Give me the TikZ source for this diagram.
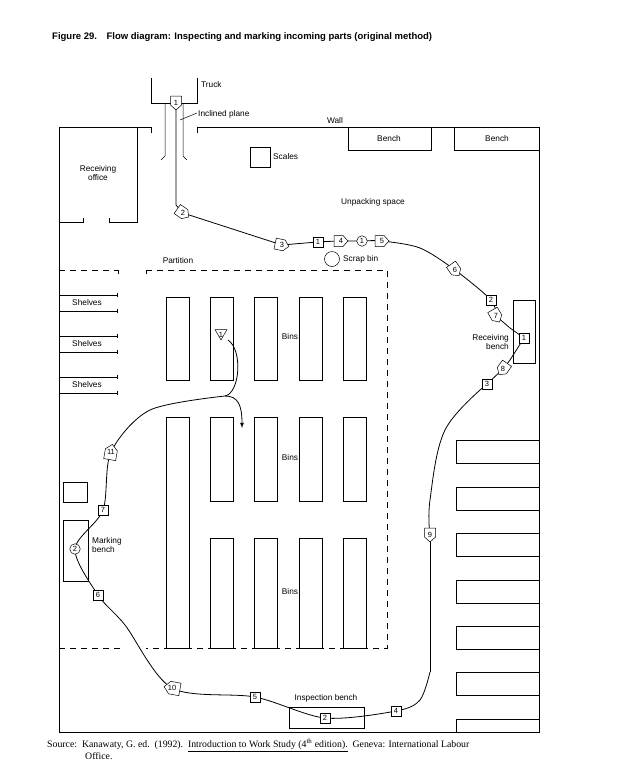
\documentclass[tikz,border=0pt]{standalone}
\usepackage{fontspec}
\setmainfont{Liberation Sans}
\newfontfamily\serifx{Liberation Serif}
\usetikzlibrary{shapes.geometric}
\begin{document}
\begin{tikzpicture}[x=1pt,y=-1pt,
  wall/.style={line width=0.8pt},
  thin/.style={line width=0.5pt},
  part/.style={line width=0.6pt,dash pattern=on 6pt off 5pt},
  lbl/.style={font=\fontsize{8.3}{9}\selectfont,inner sep=0pt,align=center},
  insp/.style={draw,fill=white,minimum size=10pt,inner sep=0pt,line width=0.5pt},
  op/.style={draw,fill=white,circle,minimum size=10.5pt,inner sep=0pt,line width=0.5pt},
  num/.style={font=\fontsize{7.5}{7.5}\selectfont,inner sep=0pt},
  flow/.style={line width=0.8pt},
  pics/trans/.style={code={\filldraw[fill=white,line width=0.5pt] (-7,-5.5) -- (2,-5.5) -- (7,0) -- (2,5.5) -- (-7,5.5) -- cycle;}}]
\useasboundingbox (0,0) rectangle (626,780);
\node[anchor=west,font=\bfseries\fontsize{9.5}{11}\selectfont,inner sep=0pt] (title) at (52,37) {Figure 29.\quad Flow diagram: Inspecting and marking incoming parts (original method)};
% walls
\draw[wall] (151,133) -- (151,127) -- (59,127) -- (59,732) -- (539,732) -- (539,127) -- (197,127) -- (197,133);
\draw[thin] (151,78) -- (151,103) -- (197,103) -- (197,78);
\node[lbl,anchor=west] (truck) at (201,85) {Truck};
\draw[thin] (161,160) -- (165,156) -- (165,103);
\draw[thin] (187,160) -- (183,156) -- (183,103);
\draw[thin] (180,120) -- (197,113);
\node[lbl,anchor=west] (incl) at (198,114) {Inclined plane};
\node[lbl] (wallt) at (335,121) {Wall};
% receiving office
\draw[thin] (137,127) -- (137,222) -- (109,222) -- (109,218);
\draw[thin] (59,222) -- (83,222) -- (83,218);
\node[lbl] (ro) at (98,173) {Receiving\\office};
\draw[thin] (250,147) rectangle (270,167);
\node[lbl,anchor=west] (scales) at (273,157) {Scales};
\draw[thin] (348,127) rectangle (431,150);
\node[lbl] at (389,139) {Bench};
\draw[thin] (454,127) rectangle (539,150);
\node[lbl] at (497,139) {Bench};
\node[lbl] (unp) at (373,202) {Unpacking space};
% partition
\draw[part] (59,270) -- (118,270); \draw[thin] (118,270) -- (118,274);
\draw[thin] (146,274) -- (146,270);
\draw[part] (146,270) -- (387,270) -- (387,648) -- (146,648);
\draw[part] (120,648) -- (59,648);
\node[lbl] (partl) at (178,261) {Partition};
\draw[thin] (332,259) circle (7.5);
\node[lbl,anchor=west] (scrap) at (343,259) {Scrap bin};
% shelves
\foreach \y in {295,336,377}{
  \draw[thin] (117,\y) -- (59,\y) -- (59,\y+16) -- (117,\y+16);
  \draw[thin] (117,\y-2) -- (117,\y+2) (117,\y+14) -- (117,\y+18);
  \node[lbl] at (87,\y+8) {Shelves};}
% bins
\foreach \x in {166,210,254,299,343}{\draw[thin] (\x,297) rectangle (\x+23,380);}
\foreach \x in {210,254,299,343}{\draw[thin] (\x,417) rectangle (\x+23,501); \draw[thin] (\x,538) rectangle (\x+23,648);}
\draw[thin] (166,417) rectangle (189,648);
\node[lbl,fill=white,inner sep=1pt] at (290,337) {Bins};
\node[lbl,fill=white,inner sep=1pt] at (290,458) {Bins};
\node[lbl,fill=white,inner sep=1pt] at (290,592) {Bins};
% right side
\draw[thin] (513,300) rectangle (535,363);
\node[lbl,align=right,anchor=east] (rb) at (509,342) {Receiving\\bench};
\foreach \y in {440,487,533,580,626,672}{\draw[thin] (539,\y) -- (456,\y) -- (456,\y+23) -- (539,\y+23);}
\draw[thin] (539,719) -- (456,719) -- (456,732);
% marking / inspection bench
\draw[thin] (63,482) rectangle (87,502);
\draw[thin] (63,520) rectangle (88,581);
\node[lbl,align=left,anchor=west] (mb) at (92,545) {Marking\\bench};
\draw[thin] (289,707) rectangle (364,728);
\node[lbl] (ib) at (326,698) {Inspection bench};
% flow path coordinates
\coordinate (a0) at (176,103);
\coordinate (a1) at (176,205);
\coordinate (a2) at (183,213);
\coordinate (a3) at (282,245);
\coordinate (a4) at (318,242);
\coordinate (a5) at (341,241);
\coordinate (a6) at (362,241);
\coordinate (a7) at (382,241);
\coordinate (a8) at (420,248);
\coordinate (a9) at (455,270);
\coordinate (a10) at (491,300);
\coordinate (a11) at (496,316);
\coordinate (a12) at (524,338);
\coordinate (a13) at (503,369);
\coordinate (a14) at (487,384);
\coordinate (a15) at (445,430);
\coordinate (a16) at (430,500);
\coordinate (a17) at (430,535);
\coordinate (a18) at (430,672);
\coordinate (a19) at (396,711);
\coordinate (a20) at (325,718);
\coordinate (a21) at (255,697);
\coordinate (a22) at (172,688);
\coordinate (a23) at (125,625);
\coordinate (a24) at (98,595);
\coordinate (a25) at (75,549);
\coordinate (a26) at (103,510);
\coordinate (a27) at (111,452);
\coordinate (a28) at (150,410);
\coordinate (j) at (225,396);
\coordinate (s1) at (221,333);
\coordinate (e1) at (242,428);
\draw[flow] (a0) -- (a1) -- (a2) -- (a3);
\draw[flow] plot[smooth,tension=0.5] coordinates {(a3) (a4) (a5) (a6) (a7) (a8) (a9) (a10) (a11)};
\draw[flow] (a11) -- (510,328) -- (a12) -- (510,360) -- (a13) -- (a14);
\draw[flow] plot[smooth,tension=0.6] coordinates {(a14) (a15) (a16) (a17)};
\draw[flow] (a17) -- (a18);
\draw[flow] plot[smooth,tension=0.5] coordinates {(a18) (420,700) (a19) (a20) (a21) (a22) (a23) (a24) (a25) (a26) (a27) (a28) (j)};
\draw[flow] (j) .. controls (240,393) and (243,350) .. (228,340);
\draw[flow,-latex] (j) .. controls (238,396) and (242,405) .. (e1);
% symbols
\pic[rotate=-90] at (a0) {trans}; \node[num] (t1) at (a0) {1};
\pic[rotate=-35] at (a2) {trans}; \node[num] (t2) at (a2) {2};
\pic[rotate=-12] at (a3) {trans}; \node[num] (t3) at (a3) {3};
\node[insp] (i1) at (a4) {}; \node[num] at (i1) {1};
\pic at (a5) {trans}; \node[num] (t4) at (a5) {4};
\node[op] (o1) at (a6) {}; \node[num] at (o1) {1};
\pic at (a7) {trans}; \node[num] (t5) at (a7) {5};
\pic[rotate=-55] at (a9) {trans}; \node[num] (t6) at (a9) {6};
\node[insp] (i2) at (a10) {}; \node[num] at (i2) {2};
\pic[rotate=-60] at (a11) {trans}; \node[num] (t7) at (a11) {7};
\node[insp] (i1b) at (a12) {}; \node[num] at (i1b) {1};
\pic[rotate=-125] at (a13) {trans}; \node[num] (t8) at (a13) {8};
\node[insp] (i3) at (a14) {}; \node[num] at (i3) {3};
\pic[rotate=-90] at (a17) {trans}; \node[num] (t9) at (a17) {9};
\node[insp] (i4) at (a19) {}; \node[num] at (i4) {4};
\node[insp] (i2b) at (a20) {}; \node[num] at (i2b) {2};
\node[insp] (i5) at (a21) {}; \node[num] at (i5) {5};
\pic[rotate=170,scale=1.15] at (a22) {trans}; \node[num] (t10) at (a22) {10};
\node[insp] (i6) at (a24) {}; \node[num] at (i6) {6};
\node[op] (o2) at (a25) {}; \node[num] at (o2) {2};
\node[insp] (i7) at (a26) {}; \node[num] at (i7) {7};
\pic[rotate=80,scale=1.1] at (a27) {trans}; \node[num] (t11) at (a27) {11};
\node[draw,fill=white,isosceles triangle,isosceles triangle apex angle=60,shape border rotate=-90,minimum width=12pt,inner sep=0pt,line width=0.5pt] (st) at (s1) {};
\node[num] at ([yshift=-2pt]st) {1};
% source
\node[anchor=north west,inner sep=0pt,font=\serifx\fontsize{9.8}{12}\selectfont,align=left] (src) at (47,739) {Source:\ \ Kanawaty, G. ed.\ \ (1992).\ \ \underline{Introduction to Work Study (4\textsuperscript{th} edition).}\ \ Geneva: International Labour\\\hspace*{38pt}Office.};
\end{tikzpicture}
\end{document}
